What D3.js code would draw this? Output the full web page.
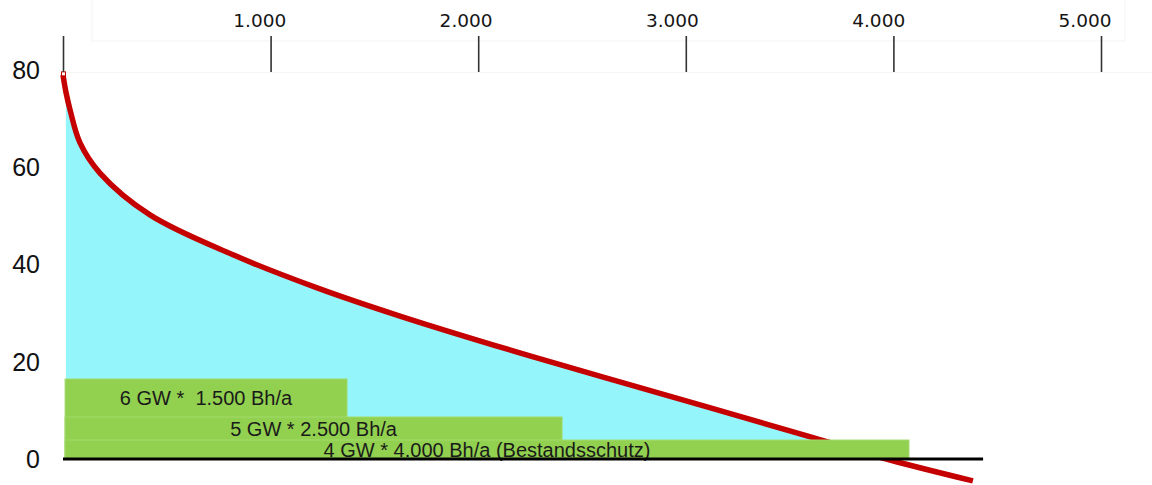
<!DOCTYPE html>
<html>
<head>
<meta charset="utf-8">
<script src="https://cdn.jsdelivr.net/npm/d3@7"></script>
<style>
  body { margin: 0; background: #fff; }
  svg { display: block; }
</style>
</head>
<body>
<div class="chart"></div>
<script>
// curve (hours on x, value on y)
const curveX = [0, 14, 34, 82, 178, 419, 819, 1224, 1623, 2249, 2972, 3613, 3984, 4383];
const curveY = [79.0, 75.5, 71.8, 65.0, 58.8, 50.2, 42.0, 35.2, 29.4, 21.2, 12.3, 4.4, -0.2, -4.5];

// green blocks
const barLabels = ['6 GW *  1.500 Bh/a', '5 GW * 2.500 Bh/a', '4 GW * 4.000 Bh/a (Bestandsschutz)'];
const barStart = [10, 10, 10];
const barEnd = [1368, 2404, 4075];
const barTop = [16.45, 8.64, 3.9];
const barBottom = [8.64, 3.9, 0];

const xTicks = [0, 1000, 2000, 3000, 4000, 5000];
const yTicks = [0, 20, 40, 60, 80];
const baselineEnd = 4432;

const width = 1152;
const height = 485;

const de = d3.formatLocale({ decimal: ',', thousands: '.', grouping: [3], currency: ['', ' €'] });
const fmt = de.format(',d');

const x = d3.scaleLinear().domain([0, 5000]).range([63, 1101]);
// the labels of the top axis sit a little left of their ticks in the original
const xLabel = d3.scaleLinear().domain([0, 5000]).range([53, 1084.5]);
const y = d3.scaleLinear().domain([0, 80]).range([459, 70]);

const svg = d3.select('.chart')
    .append('svg')
    .attr('width', width)
    .attr('height', height);

// faint screenshot edges near the top
svg.append('rect')
    .attr('x', 92).attr('y', -2)
    .attr('width', 1033).attr('height', 43)
    .attr('fill', 'none')
    .attr('stroke', '#f4f4f4');
svg.append('line')
    .attr('x1', 63).attr('x2', width)
    .attr('y1', 72.5).attr('y2', 72.5)
    .attr('stroke', '#f5f5f5');

const points = curveX.map((d, i) => ({ x: d, y: curveY[i] }));

// cyan area under curve
const area = d3.area()
    .x(d => x(d.x))
    .y0(y(0))
    .y1(d => y(Math.max(d.y, 0)))
    .curve(d3.curveCatmullRom);

svg.append('path')
    .datum(points.filter(d => d.x >= 14 && d.x <= 3990))
    .attr('d', area)
    .attr('fill', '#94f6fa');

// red curve
const line = d3.line()
    .x(d => x(d.x))
    .y(d => y(d.y))
    .curve(d3.curveCatmullRom);

svg.append('path')
    .datum(points)
    .attr('d', line)
    .attr('fill', 'none')
    .attr('stroke', '#c50000')
    .attr('stroke-width', 5.5);

// little marker at the start of the curve
svg.append('rect')
    .attr('x', x(0) - 1.5)
    .attr('y', y(curveY[0]) - 3)
    .attr('width', 4)
    .attr('height', 4)
    .attr('fill', '#fff')
    .attr('stroke', '#c50000')
    .attr('stroke-width', 1);

// green bars (each drawn down to 0, later ones on top)
svg.selectAll('.bar')
    .data(barLabels)
    .enter()
    .append('rect')
    .attr('class', 'bar')
    .attr('x', (d, i) => x(barStart[i]))
    .attr('y', (d, i) => y(barTop[i]))
    .attr('width', (d, i) => x(barEnd[i]) - x(barStart[i]))
    .attr('height', (d, i) => y(0) - y(barTop[i]))
    .attr('fill', '#92d050')
    .attr('stroke', '#a3da6c')
    .attr('stroke-width', 1);

svg.selectAll('.bar-label')
    .data(barLabels)
    .enter()
    .append('text')
    .attr('class', 'bar-label')
    .text(d => d)
    .style('white-space', 'pre')
    .attr('font-family', '"Liberation Sans", Arial, sans-serif')
    .attr('font-size', '20px')
    .attr('fill', '#1a1a1a')
    .attr('text-anchor', 'middle')
    .attr('x', (d, i) => (x(barStart[i]) + x(barEnd[i])) / 2)
    .attr('y', (d, i) => (y(barTop[i]) + y(barBottom[i])) / 2)
    .attr('dy', '0.35em');

// black zero line
svg.append('line')
    .attr('x1', x(0)).attr('x2', x(baselineEnd))
    .attr('y1', y(0)).attr('y2', y(0))
    .attr('stroke', '#000')
    .attr('stroke-width', 3);

// top axis: tick marks
const gx = svg.append('g')
    .attr('transform', 'translate(0,72)')
    .call(d3.axisTop(x).tickValues(xTicks).tickSize(36).tickFormat(''));
gx.select('.domain').remove();
gx.selectAll('.tick line').attr('stroke', '#333').attr('stroke-width', 1.6);

// top axis: labels
const gl = svg.append('g')
    .attr('transform', 'translate(0,72)')
    .call(d3.axisTop(xLabel).tickValues(xTicks.filter(d => d > 0)).tickSize(0).tickPadding(45).tickFormat(fmt));
gl.select('.domain').remove();
gl.selectAll('.tick line').remove();
gl.selectAll('.tick text')
    .attr('font-family', '"DejaVu Sans", sans-serif')
    .attr('font-size', '18.5px')
    .attr('fill', '#151515');

// y labels (no axis line)
svg.selectAll('.y-label')
    .data(yTicks)
    .enter()
    .append('text')
    .attr('class', 'y-label')
    .text(d => d)
    .attr('font-family', '"Liberation Sans", Arial, sans-serif')
    .attr('font-size', '25px')
    .attr('fill', '#111')
    .attr('text-anchor', 'end')
    .attr('x', 40)
    .attr('y', d => y(d))
    .attr('dy', '0.35em');
</script>
</body>
</html>
